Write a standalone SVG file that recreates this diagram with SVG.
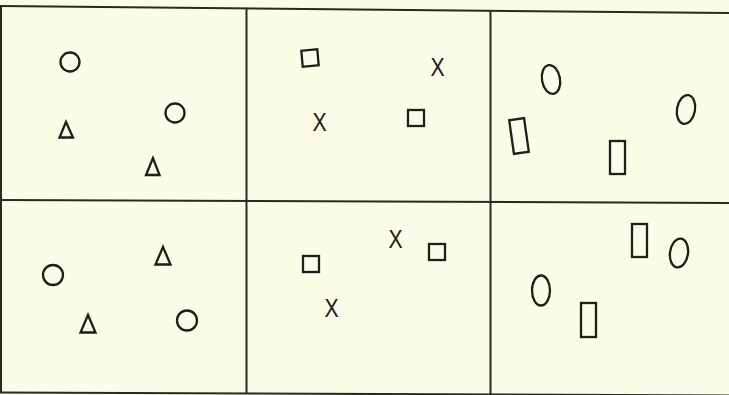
<svg xmlns="http://www.w3.org/2000/svg" width="729" height="395" viewBox="0 0 729 395">
<style>
.grid{stroke:#2a2a22;stroke-width:2;fill:none}
.sh{stroke:#1e1e1a;stroke-width:2.3;fill:none}
.x{font-family:"Liberation Sans",Arial,sans-serif;font-size:25px;fill:#1e1e1a;text-anchor:middle}
</style>
<rect x="0" y="0" width="729" height="395" fill="#fcfde9"/>
<g id="grid">
<line class="grid" x1="0" y1="6" x2="729" y2="13"/>
<line class="grid" x1="0" y1="200" x2="729" y2="203"/>
<line class="grid" x1="0" y1="392.5" x2="729" y2="395.5"/>
<line class="grid" x1="1" y1="6" x2="1" y2="393"/>
<line class="grid" x1="246.5" y1="8" x2="246.5" y2="394"/>
<line class="grid" x1="490.5" y1="10" x2="490.5" y2="394"/>
</g>
<g id="panel1">
<circle class="sh" cx="70" cy="62" r="9.5"/>
<circle class="sh" cx="175" cy="113" r="9.5"/>
<polygon class="sh" points="66,122 59.5,137.5 73,137.5"/>
<polygon class="sh" points="153,158 146,175 159.5,175"/>
</g>
<g id="panel2">
<rect class="sh" x="302" y="50" width="16" height="16" transform="rotate(-5 310 58)"/>
<text class="x" x="437.5" y="76" transform="translate(437.5 0) scale(0.85 1) translate(-437.5 0)">X</text>
<text class="x" x="319.5" y="131" transform="translate(319.5 0) scale(0.85 1) translate(-319.5 0)">X</text>
<rect class="sh" x="408" y="110" width="16" height="16"/>
</g>
<g id="panel3">
<ellipse class="sh" cx="551" cy="79.5" rx="9" ry="14.5" transform="rotate(-10 551 79.5)"/>
<ellipse class="sh" cx="686" cy="109.5" rx="9" ry="14.5" transform="rotate(10 686 109.5)"/>
<rect class="sh" x="511.5" y="119" width="15" height="34" transform="rotate(-8 519 136)"/>
<rect class="sh" x="610" y="141" width="15" height="33"/>
</g>
<g id="panel4">
<circle class="sh" cx="53" cy="275" r="10"/>
<circle class="sh" cx="187" cy="320.5" r="10"/>
<polygon class="sh" points="163,247 155.5,264.5 170.5,264.5"/>
<polygon class="sh" points="88,315 80.5,332.5 95.5,332.5"/>
</g>
<g id="panel5">
<text class="x" x="395.5" y="248" transform="translate(395.5 0) scale(0.85 1) translate(-395.5 0)">X</text>
<rect class="sh" x="429" y="244" width="16" height="16"/>
<rect class="sh" x="303" y="256" width="16" height="16"/>
<text class="x" x="331.5" y="317" transform="translate(331.5 0) scale(0.85 1) translate(-331.5 0)">X</text>
</g>
<g id="panel6">
<rect class="sh" x="632" y="224" width="15" height="33"/>
<ellipse class="sh" cx="679" cy="253" rx="9" ry="14.5" transform="rotate(8 679 253)"/>
<ellipse class="sh" cx="541" cy="290.5" rx="9" ry="15"/>
<rect class="sh" x="581" y="303" width="15" height="34"/>
</g>
</svg>
